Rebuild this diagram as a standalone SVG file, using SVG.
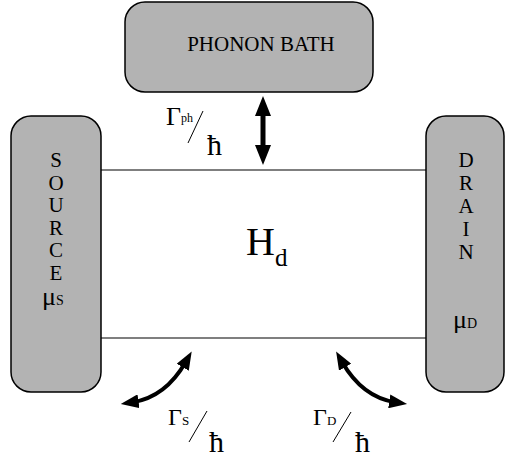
<svg xmlns="http://www.w3.org/2000/svg" width="507" height="457" viewBox="0 0 507 457">
<style>
.box{fill:#b3b3b3;stroke:#000;stroke-width:1.5}
.t{font-family:"Liberation Serif","Times New Roman",serif;fill:#000}
.wire{stroke:#000;stroke-width:1.2;fill:none}
.arr{stroke:#000;fill:none}
</style>
<defs>
<marker id="hv" markerUnits="userSpaceOnUse" viewBox="0 0 20 16" markerWidth="20" markerHeight="16" refX="6" refY="8" orient="auto-start-reverse"><path d="M0,0 L20,8 L0,16 z" fill="#000"/></marker>
<marker id="hc" markerUnits="userSpaceOnUse" viewBox="0 0 18 14" markerWidth="18" markerHeight="14" refX="6" refY="7" orient="auto-start-reverse"><path d="M0,0 L18,7 L0,14 z" fill="#000"/></marker>
</defs>
<rect width="507" height="457" fill="#fff"/>
<g id="connectors">
<line class="wire" x1="101" y1="170" x2="426" y2="170"/>
<line class="wire" x1="101" y1="338" x2="426" y2="338"/>
<path class="arr" stroke-width="5" d="M263,110 L263,151" marker-start="url(#hv)" marker-end="url(#hv)"/>
<path class="arr" stroke-width="4" d="M185.7,362 Q165.4,397.2 132.6,402.2" marker-start="url(#hc)" marker-end="url(#hc)"/>
<path class="arr" stroke-width="4" d="M342.1,362 Q362.4,397.2 395.2,402.2" marker-start="url(#hc)" marker-end="url(#hc)"/>
<line x1="203" y1="111" x2="188" y2="143" stroke="#000" stroke-width="1"/>
<line x1="207" y1="411" x2="189" y2="442" stroke="#000" stroke-width="1"/>
<line x1="351" y1="412" x2="333" y2="442" stroke="#000" stroke-width="1"/>
<text class="t" x="166" y="125" font-size="26">Γ<tspan font-size="12" dy="-3">ph</tspan></text>
<text class="t" x="207" y="155" font-size="30">ħ</text>
<text class="t" x="168" y="425" font-size="24">Γ<tspan font-size="13">S</tspan></text>
<text class="t" x="209" y="452" font-size="30">ħ</text>
<text class="t" x="313" y="425" font-size="24">Γ<tspan font-size="13">D</tspan></text>
<text class="t" x="355" y="452" font-size="30">ħ</text>
</g>
<g id="phonon">
<rect class="box" x="125" y="2" width="248" height="90" rx="20"/>
<text class="t" x="261" y="51" font-size="21" text-anchor="middle">PHONON BATH</text>
</g>
<g id="dot">
<text class="t" x="246" y="255" font-size="40">H<tspan font-size="25" dy="11">d</tspan></text>
</g>
<g id="source">
<rect class="box" x="11" y="116" width="90" height="276" rx="20"/>
<g class="t" font-size="21" text-anchor="middle">
<text x="56" y="167">S</text>
<text x="56" y="189.6">O</text>
<text x="56" y="212.2">U</text>
<text x="56" y="234.8">R</text>
<text x="56" y="257.4">C</text>
<text x="56" y="280">E</text>
</g>
<text class="t" x="42" y="305" font-size="26">μ<tspan font-size="14">S</tspan></text>
</g>
<g id="drain">
<rect class="box" x="426" y="116" width="78" height="276" rx="20"/>
<g class="t" font-size="21" text-anchor="middle">
<text x="466" y="167">D</text>
<text x="466" y="190">R</text>
<text x="466" y="213">A</text>
<text x="466" y="236">I</text>
<text x="466" y="259">N</text>
</g>
<text class="t" x="453" y="328" font-size="26">μ<tspan font-size="14">D</tspan></text>
</g>
</svg>
